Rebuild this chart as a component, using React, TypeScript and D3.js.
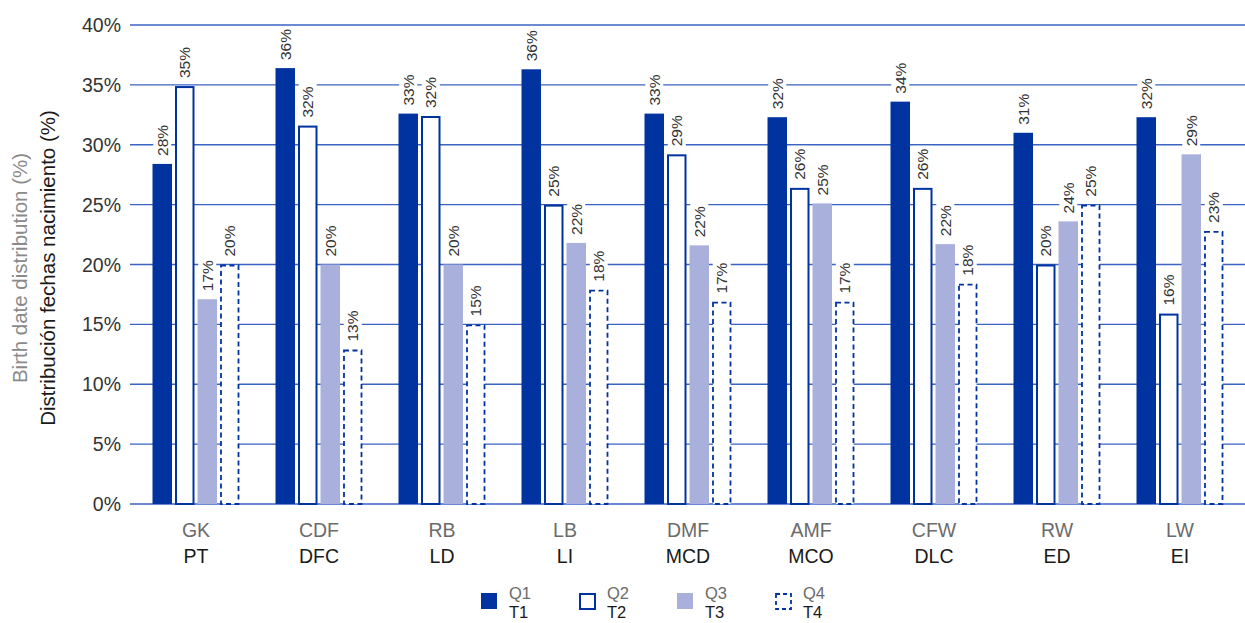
import React from "react";
import * as d3 from "d3";

const categoriesEN = ["GK", "CDF", "RB", "LB", "DMF", "AMF", "CFW", "RW", "LW"];
const categoriesES = ["PT", "DFC", "LD", "LI", "MCD", "MCO", "DLC", "ED", "EI"];
const quarters = ["Q1", "Q2", "Q3", "Q4"];
const quartersES = ["T1", "T2", "T3", "T4"];

const q1Values = [28.4, 36.4, 32.6, 36.3, 32.6, 32.3, 33.6, 31.0, 32.3];
const q2Values = [34.9, 31.6, 32.4, 25.0, 29.2, 26.4, 26.4, 20.0, 15.9];
const q3Values = [17.1, 20.0, 20.0, 21.8, 21.6, 25.1, 21.7, 23.6, 29.2];
const q4Values = [20.0, 12.9, 15.0, 17.9, 16.9, 16.9, 18.4, 25.0, 22.8];

const yTicks = [0, 5, 10, 15, 20, 25, 30, 35, 40];

const W = 1245;
const H = 623;
const DARK = "#0033a0";
const LIGHT = "#aab0dc";
const GRID = "#3a63c2";
const FONT = "'Liberation Sans', Arial, Helvetica, sans-serif";

export default function App() {
  const series = [q1Values, q2Values, q3Values, q4Values];
  const y = d3.scaleLinear().domain([0, 40]).range([504, 25]);
  const x = d3.scaleBand<string>().domain(categoriesEN).range([134.5, 1241.5]).padding(0);
  const xq = d3.scaleBand<string>().domain(quarters).range([0, 87]).paddingInner(0.133).paddingOuter(0);
  const bw = xq.bandwidth();

  const bars: React.ReactNode[] = [];
  const labels: React.ReactNode[] = [];
  categoriesEN.forEach((c, ci) => {
    const gx = (x(c) as number) + x.bandwidth() / 2 - 43.5;
    quarters.forEach((q, qi) => {
      const v = series[qi][ci];
      const bx = gx + (xq(q) as number);
      const top = y(v);
      const base = y(0);
      const key = `${c}-${q}`;
      if (qi === 0) {
        bars.push(<rect key={key} x={bx} y={top} width={bw} height={base - top} fill={DARK} />);
      } else if (qi === 1) {
        bars.push(
          <rect key={key} x={bx + 1} y={top + 1} width={bw - 2} height={base - top - 1} fill="#fff" stroke={DARK} strokeWidth={2} />
        );
      } else if (qi === 2) {
        bars.push(<rect key={key} x={bx} y={top} width={bw} height={base - top} fill={LIGHT} />);
      } else {
        bars.push(
          <rect key={key} x={bx + 1} y={top + 1} width={bw - 2} height={base - top - 1} fill="#fff" stroke={DARK} strokeWidth={1.8} strokeDasharray="5 3.5" />
        );
      }
      const cx = bx + bw / 2;
      const ly = top - 8;
      const txt = `${Math.round(v)}%`;
      labels.push(
        <g key={`l-${key}`} transform={`translate(${cx},${ly}) rotate(-90)`}>
          <rect x={-2} y={-9} width={36} height={18} fill="#fff" />
          <text x={0} y={0} dominantBaseline="central" fontSize={15.5} fill="#333" fontFamily={FONT}>
            {txt}
          </text>
        </g>
      );
    });
  });

  return (
    <svg width={W} height={H} style={{ position: "absolute", left: 0, top: 0 }} fontFamily={FONT}>
      <rect x={0} y={0} width={W} height={H} fill="#fff" />
      {yTicks.map((t) => (
        <g key={t}>
          <line x1={130} x2={1245} y1={y(t)} y2={y(t)} stroke={GRID} strokeWidth={1.3} />
          <text x={121} y={y(t)} dy="0.36em" textAnchor="end" fontSize={19.5} fill="#333">
            {`${t}%`}
          </text>
        </g>
      ))}
      {bars}
      {labels}
      {categoriesEN.map((c, i) => {
        const cx = (x(c) as number) + x.bandwidth() / 2;
        return (
          <g key={c}>
            <text x={cx} y={537} textAnchor="middle" fontSize={19.5} fill="#6b6b6b">{c}</text>
            <text x={cx} y={563} textAnchor="middle" fontSize={19.5} fill="#1a1a1a">{categoriesES[i]}</text>
          </g>
        );
      })}
      <text transform="translate(27,268) rotate(-90)" textAnchor="middle" fontSize={20.5} fill="#8a8a8a">
        Birth date distribution (%)
      </text>
      <text transform="translate(55,268) rotate(-90)" textAnchor="middle" fontSize={20.5} fill="#1a1a1a">
        Distribución fechas nacimiento (%)
      </text>
      {quarters.map((q, i) => {
        const lx = 481 + i * 98;
        const sq =
          i === 0 ? (
            <rect x={lx} y={593} width={16} height={16} fill={DARK} />
          ) : i === 1 ? (
            <rect x={lx + 1} y={594} width={15} height={15} fill="#fff" stroke={DARK} strokeWidth={2} />
          ) : i === 2 ? (
            <rect x={lx} y={593} width={16} height={16} fill={LIGHT} />
          ) : (
            <rect x={lx + 1} y={594} width={15} height={15} fill="#fff" stroke={DARK} strokeWidth={1.8} strokeDasharray="4 3" />
          );
        return (
          <g key={q}>
            {sq}
            <text x={lx + 28} y={599} fontSize={16.5} fill="#6b6b6b">{q}</text>
            <text x={lx + 28} y={618} fontSize={16.5} fill="#1a1a1a">{quartersES[i]}</text>
          </g>
        );
      })}
    </svg>
  );
}
